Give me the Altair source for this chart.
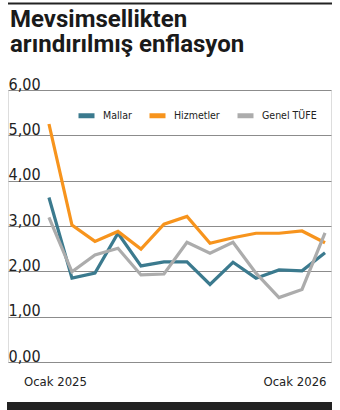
import altair as alt
import pandas as pd

months = ["2025-01", "2025-02", "2025-03", "2025-04", "2025-05", "2025-06", "2025-07",
          "2025-08", "2025-09", "2025-10", "2025-11", "2025-12", "2026-01"]
mallar = [3.63, 1.85, 1.96, 2.84, 2.12, 2.21, 2.21, 1.71, 2.20, 1.85, 2.03, 2.01, 2.41]
hizmetler = [5.25, 3.02, 2.66, 2.88, 2.49, 3.04, 3.21, 2.62, 2.74, 2.84, 2.84, 2.89, 2.63]
genel = [3.19, 1.99, 2.36, 2.51, 1.92, 1.94, 2.64, 2.40, 2.64, 1.96, 1.42, 1.60, 2.85]
series = ["Mallar", "Hizmetler", "Genel TÜFE"]
colors = ["#3b7a8e", "#f7941d", "#acacac"]
x_labels = ["Ocak 2025", "Ocak 2026"]
y_ticks = [0, 1, 2, 3, 4, 5, 6]
title_lines = ["Mevsimsellikten", "arındırılmış enflasyon"]

rows = []
for name, vals in zip(series, [mallar, hizmetler, genel]):
    for i, (m, v) in enumerate(zip(months, vals)):
        rows.append({"idx": i, "month": m, "series": name, "value": v,
                     "order": series.index(name)})
df = pd.DataFrame(rows)
one = pd.DataFrame({"k": [0]})

NARROW = "'DejaVu Sans Condensed', 'Liberation Sans Narrow', Roboto"
last = len(months) - 1
yscale = alt.Scale(domain=[0, 6], nice=False)

x_axis = alt.Axis(
    values=[0, last],
    labelExpr=f"datum.value == 0 ? '{x_labels[0]}' : '{x_labels[1]}'",
    labelAlign={"condition": {"test": f"datum.value == {last}", "value": "right"}, "value": "center"},
    labelOffset={"condition": {"test": "datum.value == 0", "value": 6}, "value": 1},
    labelFlush=False, domain=False, ticks=False, grid=False, labelPadding=13,
    labelFont=NARROW, labelFontSize=13, labelColor="#222222", title=None,
)
y_axis = alt.Axis(
    values=y_ticks,
    labelExpr="replace(format(datum.value, '.2f'), '.', ',')",
    labelAlign="left", labelBaseline="alphabetic", labelPadding=0, labelOffset=-1,
    ticks=False, tickSize=0, domain=False, grid=True, gridColor="#8c8c8c", gridWidth=1,
    labelFont=NARROW, labelFontSize=16, labelColor="#222222", title=None,
)

lines = alt.Chart(df).mark_line(strokeWidth=3.2).encode(
    x=alt.X("idx:Q", scale=alt.Scale(domain=[-1.78, 12.26], nice=False, zero=False), axis=x_axis),
    y=alt.Y("value:Q", scale=yscale, axis=y_axis),
    color=alt.Color("series:N", scale=alt.Scale(domain=series, range=colors),
                    legend=alt.Legend(orient="none", legendX=68, legendY=15, direction="horizontal",
                                      title=None, symbolType="stroke", symbolStrokeWidth=5,
                                      symbolSize=256, labelFont=NARROW, labelFontSize=10.5,
                                      labelColor="#222222", columnPadding=7, labelOffset=6,
                                      padding=0)),
    order=alt.Order("order:Q"),
)

# decorative top rule, placed through the y scale just above the 6,00 line (beyond the domain)
top_rule = alt.Chart(one).mark_rule(color="#222222", strokeWidth=2, clip=False).encode(
    x=alt.value(0), x2=alt.value(324), y=alt.datum(7.91, type="quantitative", scale=yscale)
)
bottom_bar = alt.Chart(one).mark_rect(color="#222222").encode(
    x=alt.value(-1), x2=alt.value(324), y=alt.value(312), y2=alt.value(320)
)
title_style = dict(align="left", baseline="alphabetic", font="Roboto", fontWeight="bold",
                   fontSize=24, color="#1a1a1a")
title1 = alt.Chart(one).mark_text(**title_style).encode(
    x=alt.value(2), y=alt.value(-63), text=alt.value(title_lines[0])
)
title2 = alt.Chart(one).mark_text(**title_style).encode(
    x=alt.value(2), y=alt.value(-38), text=alt.value(title_lines[1])
)

chart = alt.layer(lines, bottom_bar, title1, title2, top_rule).properties(
    width=323, height=272,
    autosize=alt.AutoSizeParams(type="none"),
    padding={"left": 8, "right": 9, "top": 90, "bottom": 48},
).configure_view(stroke=None).configure(background="white")

chart.save("out.html", embed_options={"renderer": "svg", "actions": False})
